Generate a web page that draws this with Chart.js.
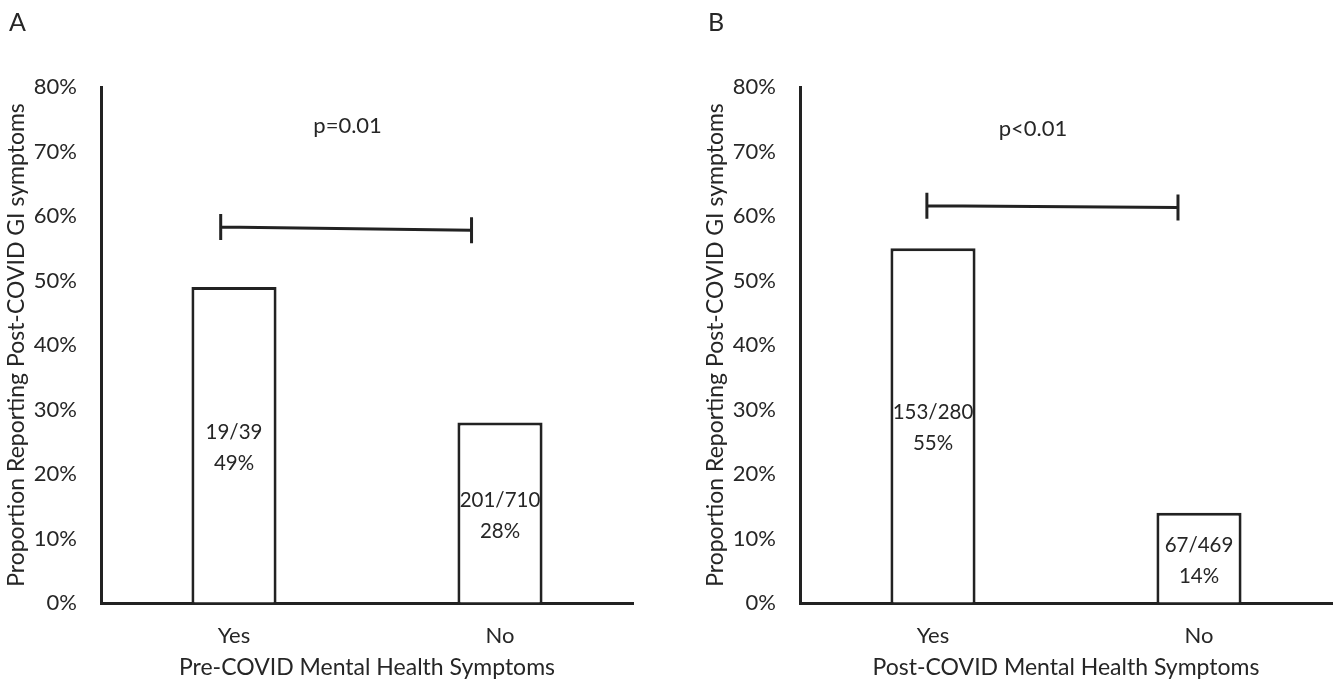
<!DOCTYPE html>
<html>
<head>
<meta charset="utf-8">
<script src="https://cdn.jsdelivr.net/npm/chart.js@4.4.1/dist/chart.umd.min.js"></script>
<style>
  html, body { margin: 0; padding: 0; background: #fff; }
  body { width: 1334px; height: 681px; position: relative; overflow: hidden; }
  .panel { position: absolute; top: 0; }
</style>
</head>
<body>
<div class="panel" style="left:0px"><canvas id="chartA" width="635" height="681"></canvas></div>
<div class="panel" style="left:699px"><canvas id="chartB" width="635" height="681"></canvas></div>
<script>
// ---- Data ----
const categories = ['Yes', 'No'];
const panelLetters = ['A', 'B'];
const xTitles = ['Pre-COVID Mental Health Symptoms', 'Post-COVID Mental Health Symptoms'];
const yTitle = 'Proportion Reporting Post-COVID GI symptoms';
const valuesA = [49, 28];
const valuesB = [55, 14];
const countsA = ['19/39', '201/710'];
const countsB = ['153/280', '67/469'];
const pctLabelsA = ['49%', '28%'];
const pctLabelsB = ['55%', '14%'];
const yTickValues = [0, 10, 20, 30, 40, 50, 60, 70, 80];
const pTexts = ['p=0.01', 'p<0.01'];
// bracket endpoints in data units (category index, percent)
const bracketXA = [-0.05, 0.893];
const bracketYA = [58.3, 57.8];
const bracketXB = [-0.023, 0.921];
const bracketYB = [61.6, 61.3];
// p-value text anchor in data units
const pPosA = [0.427, 74];
const pPosB = [0.376, 73.5];

const FONT = 'Lato, "Open Sans", sans-serif';
const INK = '#222222';
const TXT = '#262626';

const annotate = {
  id: 'annotate',
  afterDatasetsDraw(chart, args, opts) {
    const ctx = chart.ctx;
    const xs = chart.scales.x, ys = chart.scales.y;
    ctx.save();
    // panel letter
    ctx.fillStyle = TXT;
    ctx.font = '25px ' + FONT;
    ctx.textAlign = 'left';
    ctx.textBaseline = 'middle';
    ctx.fillText(opts.letter, 9, 23);
    // bar labels
    const meta = chart.getDatasetMeta(0);
    ctx.font = '20.5px ' + FONT;
    ctx.textAlign = 'center';
    meta.data.forEach((bar, i) => {
      const mid = (bar.y + bar.base) / 2 + 3;
      ctx.fillText(opts.counts[i], bar.x, mid - 15.5);
      ctx.fillText(opts.pcts[i], bar.x, mid + 15.5);
    });
    // bracket
    const x1 = xs.getPixelForValue(opts.bx[0]), x2 = xs.getPixelForValue(opts.bx[1]);
    const y1 = ys.getPixelForValue(opts.by[0]), y2 = ys.getPixelForValue(opts.by[1]);
    ctx.strokeStyle = INK;
    ctx.lineWidth = 3;
    ctx.beginPath();
    ctx.moveTo(x1, y1); ctx.lineTo(x2, y2);
    ctx.moveTo(x1, y1 - 13); ctx.lineTo(x1, y1 + 13);
    ctx.moveTo(x2, y2 - 13); ctx.lineTo(x2, y2 + 13);
    ctx.stroke();
    // p text
    ctx.font = '22px ' + FONT;
    ctx.fillText(opts.p, xs.getPixelForValue(opts.pp[0]), ys.getPixelForValue(opts.pp[1]));
    ctx.restore();
  }
};

function makeChart(id, idx, values, counts, pcts, bx, by, pp) {
  return new Chart(document.getElementById(id), {
    type: 'bar',
    data: {
      labels: categories,
      datasets: [{
        data: values,
        backgroundColor: '#ffffff',
        borderColor: INK,
        borderWidth: 3,
        borderSkipped: 'start',
        categoryPercentage: 1.0,
        barPercentage: 0.32
      }]
    },
    plugins: [annotate],
    options: {
      responsive: false,
      animation: false,
      events: [],
      layout: { padding: { top: 87, right: 2, left: 0, bottom: 0 } },
      plugins: {
        legend: { display: false },
        tooltip: { enabled: false },
        annotate: { letter: panelLetters[idx], counts, pcts, bx, by, p: pTexts[idx], pp }
      },
      scales: {
        x: {
          grid: { display: true, drawOnChartArea: false, drawTicks: false },
          border: { display: true, color: INK, width: 3 },
          ticks: { color: TXT, font: { family: FONT, size: 22 }, padding: 20 },
          title: { display: true, text: xTitles[idx], color: TXT, font: { family: FONT, size: 23 }, padding: { top: 4, bottom: 0 } },
          afterFit(s) { s.height = 78; }
        },
        y: {
          min: 0, max: 80,
          afterBuildTicks(s) { s.ticks = yTickValues.map(v => ({ value: v })); },
          grid: { display: true, drawOnChartArea: false, drawTicks: false },
          border: { display: true, color: INK, width: 3 },
          ticks: { color: TXT, font: { family: FONT, size: 22 }, padding: 24, callback: v => v + '%' },
          title: { display: true, text: yTitle, color: TXT, font: { family: FONT, size: 23 }, padding: { top: 3, bottom: 0 } },
          afterFit(s) { s.width = 101; }
        }
      }
    }
  });
}

makeChart('chartA', 0, valuesA, countsA, pctLabelsA, bracketXA, bracketYA, pPosA);
makeChart('chartB', 1, valuesB, countsB, pctLabelsB, bracketXB, bracketYB, pPosB);
</script>
</body>
</html>
